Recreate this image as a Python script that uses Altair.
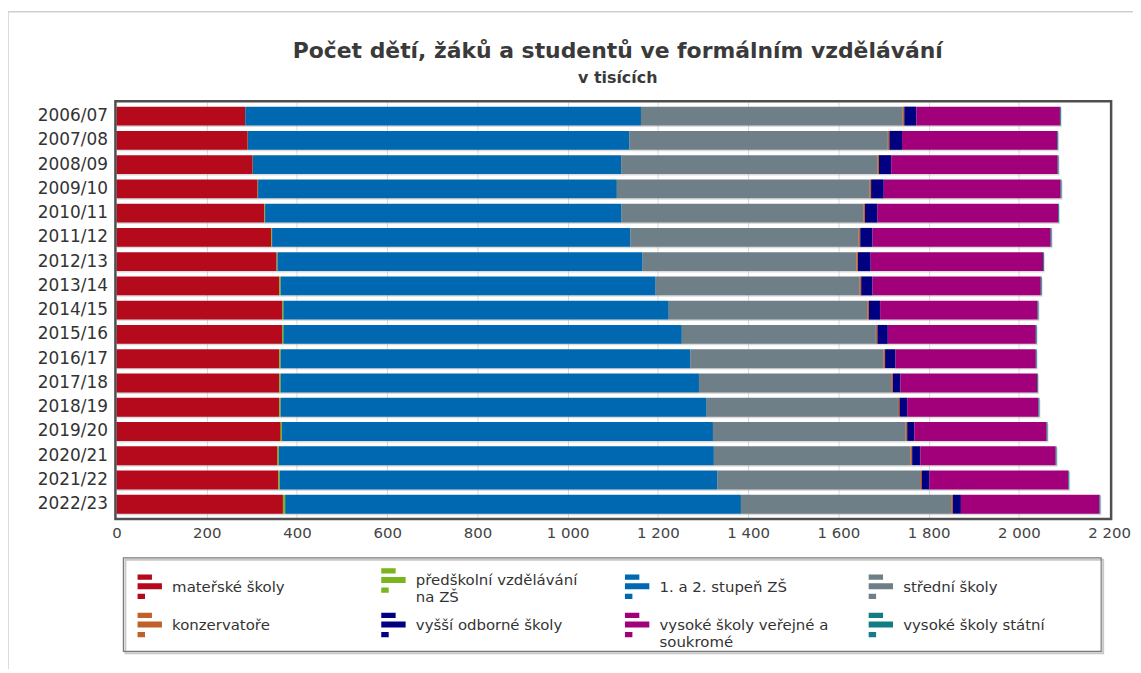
import altair as alt
import pandas as pd

years = ["2006/07", "2007/08", "2008/09", "2009/10", "2010/11", "2011/12", "2012/13",
         "2013/14", "2014/15", "2015/16", "2016/17", "2017/18", "2018/19", "2019/20",
         "2020/21", "2021/22", "2022/23"]

series = ["mateřské školy", "předškolní vzdělávání na ZŠ", "1. a 2. stupeň ZŠ", "střední školy",
          "konzervatoře", "vyšší odborné školy", "vysoké školy veřejné a soukromé",
          "vysoké školy státní"]
colors = ["#b5091c", "#7ab51d", "#0067b1", "#6f7f88", "#c0612a", "#000080", "#a1007a", "#137d84"]

ms = [285, 291, 302, 313, 328, 343, 355, 361, 367, 367, 361, 361, 361, 364, 357, 359, 369]
pred = [0.5, 0.5, 0.5, 1, 1.5, 2, 2, 3, 3, 3, 3, 3, 3, 3, 3, 3, 5]
zs = [877, 845, 816, 795, 790, 794, 809, 831, 854, 883, 908, 927, 944, 955, 964, 970, 1010]
ss = [580, 573, 568, 560, 536, 506, 474, 452, 440, 430, 428, 426, 424, 427, 436, 449, 466]
kons = [3.5, 3.5, 3.5, 3.5, 3.5, 3.5, 3.5, 3.5, 3.5, 3.5, 3.5, 3.5, 3.5, 3.5, 3.5, 3.5, 3.5]
vos = [27, 28, 27, 28, 27, 27, 28, 25, 25, 23, 23, 17, 17, 16, 18, 17, 18]
vs = [318, 344, 369, 392, 401, 395, 382, 373, 349, 328, 311, 303, 291, 293, 300, 308, 307]
vss = [2, 2, 2, 2, 2, 2, 2, 2, 2, 2, 2, 2, 2, 2, 2, 2, 2]

x_ticks = [0, 200, 400, 600, 800, 1000, 1200, 1400, 1600, 1800, 2000, 2200]

values = [ms, pred, zs, ss, kons, vos, vs, vss]
rows = []
for si, (name, vals) in enumerate(zip(series, values)):
    for y, v in zip(years, vals):
        rows.append({"rok": y, "typ": name, "pocet": v, "poradi": si})
df = pd.DataFrame(rows)

totals = pd.DataFrame({"rok": years,
                       "celkem": [sum(v[i] for v in values) for i in range(len(years))]})

FONT = "DejaVu Sans"

y_enc = alt.Y("rok:N", sort=years, title=None,
              scale=alt.Scale(paddingInner=0.22, paddingOuter=0.18),
              axis=alt.Axis(labelFontSize=17, labelColor="#333", labelPadding=9,
                            domain=False, ticks=False, grid=False, labelFont=FONT))

shadow = alt.Chart(totals).mark_bar(color="#9a9a9a", opacity=0.35, yOffset=1.5, xOffset=1).encode(
    x=alt.X("celkem:Q", scale=alt.Scale(domain=[0, 2200], nice=False)),
    y=y_enc,
)

label_expr = ("datum.label == 'předškolní vzdělávání na ZŠ' ? ['předškolní vzdělávání', 'na ZŠ'] : "
              "datum.label == 'vysoké školy veřejné a soukromé' ? ['vysoké školy veřejné a', 'soukromé'] : "
              "datum.label")

symbol_path = ("M-1,-1H0.18V-0.57H-1Z M-1,-0.29H1V0.2H-1Z M-1,0.57H-0.39V1H-1Z")

bars = alt.Chart(df).mark_bar().encode(
    x=alt.X("pocet:Q", stack="zero", title=None,
            scale=alt.Scale(domain=[0, 2200], nice=False),
            axis=alt.Axis(values=x_ticks, labelFontSize=15, labelColor="#444", labelFont=FONT,
                          labelExpr="replace(format(datum.value, ','), ',', ' ')",
                          grid=True, gridColor="#dadada",
                          gridOpacity={"condition": {"test": "datum.value == 0 || datum.value == 2200",
                                                     "value": 0}, "value": 1},
                          domain=False, ticks=False,
                          labelPadding=8, labelFlush=False)),
    y=y_enc,
    color=alt.Color("typ:N", title=None,
                    scale=alt.Scale(domain=series, range=colors),
                    legend=alt.Legend(orient="none", legendX=10, legendY=457, columns=4,
                                      direction="horizontal", symbolType=symbol_path,
                                      symbolSize=600, symbolStrokeWidth=0, symbolOpacity=1,
                                      labelFontSize=15, labelColor="#333", labelFont=FONT,
                                      labelOffset=10, labelLimit=400, labelExpr=label_expr,
                                      columnPadding=40, rowPadding=7, padding=11,
                                      gridAlign="all")),
    order=alt.Order("poradi:Q"),
)

# decorative frames (outer page frame, plot border and legend box), pixel-positioned
frame_src = pd.DataFrame({"f": [0]})
outer_frame = alt.Chart(frame_src).mark_rect(filled=False, stroke="#cfcfcf", strokeWidth=1.5).encode(
    x=alt.value(-109), x2=alt.value(1300), y=alt.value(-91), y2=alt.value(800))
plot_frame = alt.Chart(frame_src).mark_rect(filled=False, stroke="#4f4f4f", strokeWidth=2.5).encode(
    x=alt.value(-1), x2=alt.value(1000), y=alt.value(-1), y2=alt.value(419))
legend_shadow = alt.Chart(frame_src).mark_rect(filled=False, stroke="#c8c8c8", strokeWidth=2).encode(
    x=alt.value(9), x2=alt.value(992), y=alt.value(460), y2=alt.value(554))
legend_frame = alt.Chart(frame_src).mark_rect(filled=False, stroke="#7a7a7a", strokeWidth=1.2).encode(
    x=alt.value(7), x2=alt.value(990), y=alt.value(458), y2=alt.value(552))

chart = alt.layer(outer_frame, shadow, bars, plot_frame, legend_shadow, legend_frame).properties(
    width=998, height=418,
    autosize=alt.AutoSizeParams(type="none"),
    padding={"left": 109, "top": 93, "right": 24, "bottom": 150},
    title=alt.TitleParams(text="Počet dětí, žáků a studentů ve formálním vzdělávání",
                          subtitle="v tisících", font=FONT, fontSize=22, fontWeight="bold",
                          color="#3a3a3a", subtitleFont=FONT, subtitleFontSize=16,
                          subtitleFontWeight="bold", subtitleColor="#3a3a3a",
                          subtitlePadding=7, anchor="middle", offset=-76, dx=5),
).configure(background="white").configure_view(stroke=None)

chart.save("out.html", embed_options={"renderer": "svg", "actions": False})
